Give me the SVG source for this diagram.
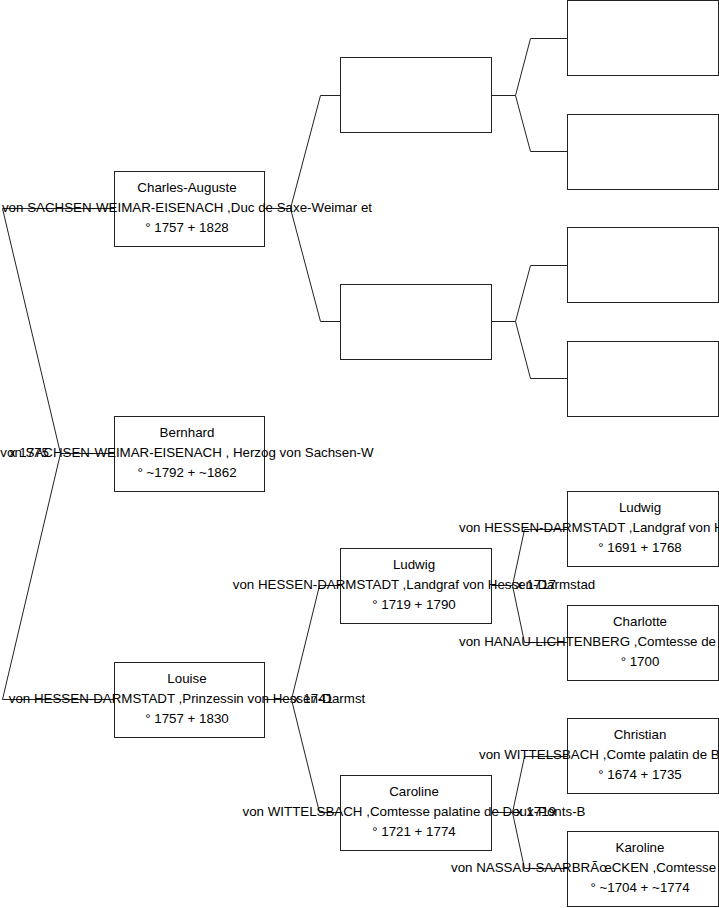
<svg xmlns="http://www.w3.org/2000/svg" width="719" height="908" viewBox="0 0 719 908">
<style>
.box{fill:#fff;stroke:#222;stroke-width:1}
.c{fill:none;stroke:#222;stroke-width:1}
text{font-family:"Liberation Sans",Arial,sans-serif;font-size:13.33px;fill:#000}
.m{text-anchor:middle}
</style>
<rect width="719" height="908" fill="#fff"/>
<g id="connectors">
<path class="c" d="M114.5,208.5 H2.5 L60.5,453.5 L2.5,699.5 H114.5 M60.5,453.5 H114.5"/>
<path class="c" d="M264.5,208.5 H290.5 L320.5,95.5 H340.5 M290.5,208.5 L320.5,321.5 H340.5"/>
<path class="c" d="M264.5,699.5 H291.5 L319.5,585.5 H340.5 M291.5,699.5 L319.5,812.5 H340.5"/>
<path class="c" d="M491.5,95.5 H515.5 L530.5,38.5 H567.5 M515.5,95.5 L530.5,151.5 H567.5"/>
<path class="c" d="M491.5,321.5 H515.5 L530.5,265.5 H567.5 M515.5,321.5 L530.5,378.5 H567.5"/>
<path class="c" d="M491.5,585.5 H512.5 L524.5,529.5 H567.5 M512.5,585.5 L524.5,642.5 H567.5"/>
<path class="c" d="M491.5,812.5 H512.5 L524.5,756.5 H567.5 M512.5,812.5 L524.5,868.5 H567.5"/>
</g>
<g id="n-charles">
<rect class="box" x="114.5" y="171.5" width="150" height="75"/>
<text class="m" x="187" y="192">Charles-Auguste</text>
<text class="m" x="187" y="212">von SACHSEN-WEIMAR-EISENACH ,Duc de Saxe-Weimar et</text>
<text class="m" x="187" y="232">° 1757 + 1828</text>
</g>
<g id="n-bernhard">
<rect class="box" x="114.5" y="416.5" width="150" height="75"/>
<text class="m" x="187" y="437">Bernhard</text>
<text class="m" x="187" y="457">von SACHSEN-WEIMAR-EISENACH , Herzog von Sachsen-W</text>
<text class="m" x="187" y="477">° ~1792 + ~1862</text>
</g>
<g id="n-louise">
<rect class="box" x="114.5" y="662.5" width="150" height="75"/>
<text class="m" x="187" y="683">Louise</text>
<text class="m" x="187" y="703">von HESSEN-DARMSTADT ,Prinzessin von Hessen-Darmst</text>
<text class="m" x="187" y="723">° 1757 + 1830</text>
</g>
<g id="n-empty-a"><rect class="box" x="340.5" y="57.5" width="151" height="75"/></g>
<g id="n-empty-b"><rect class="box" x="340.5" y="284.5" width="151" height="75"/></g>
<g id="n-ludwig2">
<rect class="box" x="340.5" y="548.5" width="151" height="75"/>
<text class="m" x="414" y="569">Ludwig</text>
<text class="m" x="414" y="589">von HESSEN-DARMSTADT ,Landgraf von Hessen-Darmstad</text>
<text class="m" x="414" y="609">° 1719 + 1790</text>
</g>
<g id="n-caroline">
<rect class="box" x="340.5" y="775.5" width="151" height="75"/>
<text class="m" x="414" y="796">Caroline</text>
<text class="m" x="414" y="816">von WITTELSBACH ,Comtesse palatine de Deux-Ponts-B</text>
<text class="m" x="414" y="836">° 1721 + 1774</text>
</g>
<g id="n-empty-c"><rect class="box" x="567.5" y="0.5" width="151" height="75"/></g>
<g id="n-empty-d"><rect class="box" x="567.5" y="114.5" width="151" height="75"/></g>
<g id="n-empty-e"><rect class="box" x="567.5" y="227.5" width="151" height="75"/></g>
<g id="n-empty-f"><rect class="box" x="567.5" y="341.5" width="151" height="75"/></g>
<g id="n-ludwig3">
<rect class="box" x="567.5" y="491.5" width="151" height="75"/>
<text class="m" x="640" y="512">Ludwig</text>
<text x="459" y="532">von HESSEN-DARMSTADT ,Landgraf von H</text>
<text class="m" x="640" y="552">° 1691 + 1768</text>
</g>
<g id="n-charlotte">
<rect class="box" x="567.5" y="605.5" width="151" height="75"/>
<text class="m" x="640" y="626">Charlotte</text>
<text x="459" y="646">von HANAU-LICHTENBERG ,Comtesse de</text>
<text class="m" x="640" y="666">° 1700</text>
</g>
<g id="n-christian">
<rect class="box" x="567.5" y="718.5" width="151" height="75"/>
<text class="m" x="640" y="739">Christian</text>
<text x="479" y="759">von WITTELSBACH ,Comte palatin de B</text>
<text class="m" x="640" y="779">° 1674 + 1735</text>
</g>
<g id="n-karoline">
<rect class="box" x="567.5" y="831.5" width="151" height="75"/>
<text class="m" x="640" y="852">Karoline</text>
<text x="451" y="872">von NASSAU-SAARBRÃœCKEN ,Comtesse</text>
<text class="m" x="640" y="892">° ~1704 + ~1774</text>
</g>
<g id="labels">
<text x="9" y="457">x 1775</text>
<text x="293" y="703">x 1741</text>
<text x="516" y="589">x 1717</text>
<text x="516" y="816">x 1719</text>
</g>
</svg>
